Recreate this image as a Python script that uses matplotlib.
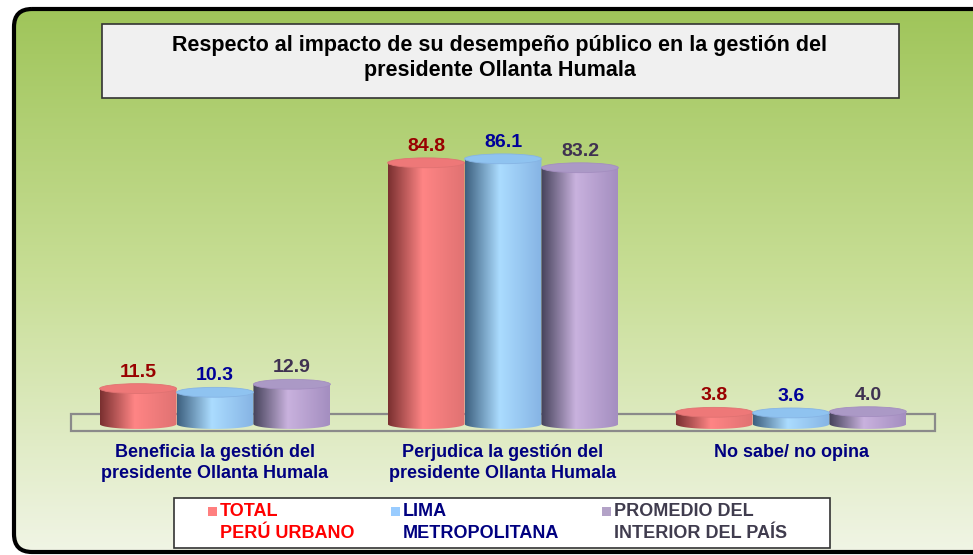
import numpy as np
import matplotlib
matplotlib.use("Agg")
import matplotlib.pyplot as plt
from matplotlib.patches import FancyBboxPatch, Rectangle, Ellipse, PathPatch
from matplotlib.path import Path
from matplotlib.colors import LinearSegmentedColormap

plt.rcParams['font.family'] = ['Liberation Sans', 'DejaVu Sans']

title = "Respecto al impacto de su desempeño público en la gestión del\npresidente Ollanta Humala"
categories = ["Beneficia la gestión del\npresidente Ollanta Humala",
              "Perjudica la gestión del\npresidente Ollanta Humala",
              "No sabe/ no opina"]
series_names = ["TOTAL\nPERÚ URBANO", "LIMA\nMETROPOLITANA", "PROMEDIO DEL\nINTERIOR DEL PAÍS"]
total_peru = [11.5, 84.8, 3.8]
lima = [10.3, 86.1, 3.6]
interior = [12.9, 83.2, 4.0]
series = [total_peru, lima, interior]

# colour ramps for the cylinders: dark edge -> highlight -> right edge
side_colors = [['#7a3030', '#ff8585', '#e07272'],
               ['#3d607f', '#abdcff', '#86b4e4'],
               ['#45425a', '#c9b2de', '#a48ec0']]
top_colors = ['#ee7878', '#8fc3f0', '#ab99c6']
label_colors = ['#990000', '#000099', '#3f3151']
legend_colors = ['#ff0000', '#000080', '#403c4e']
marker_colors = ['#ff7f7f', '#99ccff', '#b3a2c7']

W, H = 973, 555
fig = plt.figure(figsize=(W / 100, H / 100), dpi=100)

# background panel (pixel coordinates)
bg = fig.add_axes([0, 0, 1, 1])
bg.set_xlim(0, W)
bg.set_ylim(H, 0)
bg.axis('off')
grad_cmap = LinearSegmentedColormap.from_list(
    'bg', [(0, (158/255, 196/255, 88/255)), (0.5, (200/255, 222/255, 150/255)),
           (1, (241/255, 245/255, 230/255))])
frame = FancyBboxPatch((14, 9), 1000, 543, boxstyle="round,pad=0,rounding_size=18",
                       facecolor='none', edgecolor='black', lw=3, zorder=3)
bg.add_patch(frame)
img = bg.imshow(np.linspace(0, 1, 256).reshape(-1, 1), cmap=grad_cmap, aspect='auto',
                extent=(0, W, H, 0), zorder=1)
img.set_clip_path(frame)
bg.set_xlim(0, W)
bg.set_ylim(H, 0)

# title box
bg.add_patch(Rectangle((102, 24), 797, 74, facecolor='#f0f0f0', edgecolor='#333333',
                       lw=1.2, zorder=4))
bg.text(500, 58, title, ha='center', va='center', fontsize=15.5, fontweight='bold',
        color='black', linespacing=1.3, zorder=5)

# legend box
bg.add_patch(Rectangle((174, 498), 656, 50, facecolor='white', edgecolor='#333333',
                       lw=1.2, zorder=4))
leg_x = [208, 391, 602]
for i, name in enumerate(series_names):
    bg.add_patch(Rectangle((leg_x[i], 507), 9, 9, facecolor=marker_colors[i],
                           edgecolor='none', zorder=5))
    first, second = name.split('\n')
    bg.text(leg_x[i] + 12, 512, first, ha='left', va='center', fontsize=13,
            fontweight='bold', color=legend_colors[i], zorder=5)
    bg.text(leg_x[i] + 12, 534, second, ha='left', va='center', fontsize=13,
            fontweight='bold', color=legend_colors[i], zorder=5)

# chart axes: value 0 sits at pixel row 424, 3.08 px per unit
y0_pix, px_per_unit = 424, 3.08
ymin, ymax = -3, 100
top_pix = y0_pix - ymax * px_per_unit
bot_pix = y0_pix - ymin * px_per_unit
ax = fig.add_axes([71 / W, (H - bot_pix) / H, 864 / W, (bot_pix - top_pix) / H])
ax.patch.set_alpha(0)
for s in ax.spines.values():
    s.set_visible(False)

bar_w = 0.267
eh = 1.6  # half height of the cylinder ellipses in data units
x = np.arange(len(categories))

# floor slab
ax.add_patch(Rectangle((-0.5, -2.27), 3.0, 5.52, facecolor='none', edgecolor='#8a8a8a',
                       lw=1.6, zorder=1, clip_on=False))

t = np.linspace(np.pi, 2 * np.pi, 60)
for k, vals in enumerate(series):
    cmap = LinearSegmentedColormap.from_list(
        'c%d' % k, [(0, side_colors[k][0]), (0.45, side_colors[k][1]), (1, side_colors[k][2])])
    grad = np.linspace(0, 1, 128).reshape(1, -1)
    for i, v in enumerate(vals):
        cx = x[i] + (k - 1) * bar_w
        x0, x1 = cx - bar_w / 2, cx + bar_w / 2
        arc_x = cx + np.cos(t) * bar_w / 2
        arc_y = np.sin(t) * eh
        verts = [(x0, v)] + list(zip(arc_x, arc_y)) + [(x1, v), (x0, v)]
        path = Path(verts, closed=True)
        clip = PathPatch(path, facecolor='none', edgecolor='none', transform=ax.transData)
        ax.add_patch(clip)
        im = ax.imshow(grad, cmap=cmap, aspect='auto', extent=(x0, x1, -eh, v),
                       zorder=2 + i * 0.01, interpolation='bilinear')
        im.set_clip_path(clip)
        ax.add_patch(Ellipse((cx, v), bar_w, 2 * eh, facecolor=top_colors[k],
                             edgecolor=side_colors[k][2], lw=0.6, zorder=2.5, clip_on=False))
        ax.text(cx, v + eh + 1.0, f"{v:.1f}", ha='center', va='bottom', fontsize=14,
                fontweight='bold', color=label_colors[k], zorder=6)

ax.set_xlim(-0.5, 2.5)
ax.set_ylim(ymin, ymax)
ax.set_yticks([])
ax.set_xticks(x)
ax.set_xticklabels(categories, fontsize=13, fontweight='bold', color='#000080',
                   linespacing=1.28)
ax.tick_params(axis='x', length=0, pad=8)

fig.savefig("out.png", dpi=100)
